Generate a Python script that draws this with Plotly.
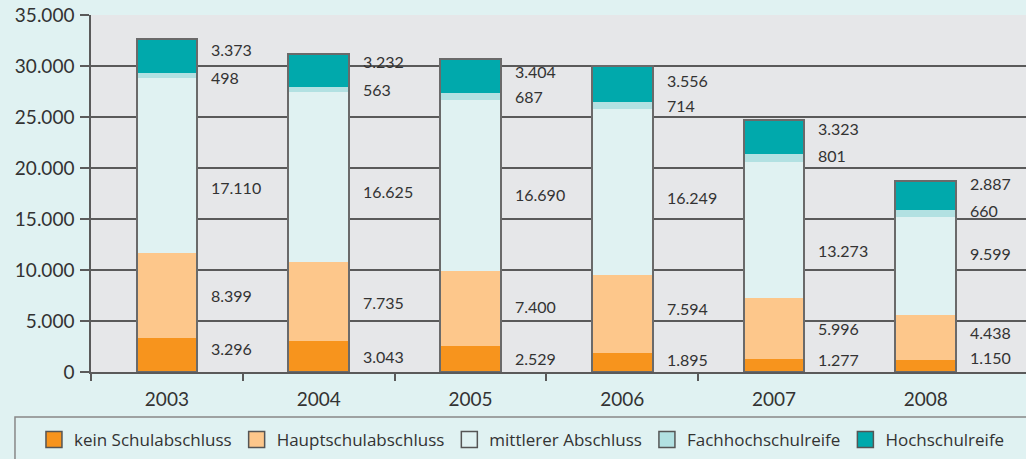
import plotly.graph_objects as go

years = ["2003", "2004", "2005", "2006", "2007", "2008"]
kein = [3296, 3043, 2529, 1895, 1277, 1150]
haupt = [8399, 7735, 7400, 7594, 5996, 4438]
mittlerer = [17110, 16625, 16690, 16249, 13273, 9599]
fach = [498, 563, 687, 714, 801, 660]
hoch = [3373, 3232, 3404, 3556, 3323, 2887]

names = ["kein Schulabschluss", "Hauptschulabschluss", "mittlerer Abschluss",
         "Fachhochschulreife", "Hochschulreife"]
values = [kein, haupt, mittlerer, fach, hoch]
colors = ["#f7941d", "#fdc78b", "#e0f2f2", "#b2e1e2", "#00a9ac"]

# pixel nudges for the value labels (positive = up), to keep them apart
label_shift = [
    [7, 0, 1, 3, 6, 9],
    [0, -1, 2, 5, 0, 5],
    [-22, -14, -9, -5, -20, 13],
    [-2, 0, 0, 0, 3, 3],
    [6, 9, 5, 4, 9, 12],
]

FONT = "Lato"
TEXT = "#333333"
LINE = "#5a5a5a"
BAR_W = 0.4
xs = list(range(len(years)))


def de(v):
    return f"{v:,}".replace(",", ".")


fig = go.Figure()
for name, vals, col in zip(names, values, colors):
    fig.add_trace(go.Bar(x=xs, y=vals, width=BAR_W, marker=dict(color=col, line=dict(width=0)),
                         showlegend=False, name=name))

# outline around each full column
totals = [sum(v) for v in zip(*values)]
fig.add_trace(go.Bar(x=xs, y=totals, width=BAR_W, xaxis="x2", showlegend=False,
                     marker=dict(color="rgba(0,0,0,0)", line=dict(color="#6a6a6a", width=2)),
                     hoverinfo="skip"))

# legend entries with larger swatches
for name, col in zip(names, colors):
    fig.add_trace(go.Scatter(x=[None], y=[None], mode="markers", name=name,
                             marker=dict(symbol="square", size=16, color=col,
                                         line=dict(color="#555555", width=1.5))))

# value labels to the right of each column
base = [0] * len(years)
for vals, shifts in zip(values, label_shift):
    for i, v in enumerate(vals):
        fig.add_annotation(x=i + BAR_W / 2, y=base[i] + v / 2, text=de(v),
                           xanchor="left", yanchor="middle", xshift=12, yshift=shifts[i],
                           showarrow=False, font=dict(family=FONT, size=16, color=TEXT))
        base[i] += v

x_range = [-0.5, 5.66]
fig.update_layout(
    barmode="stack",
    width=1026, height=459,
    margin=dict(l=91, r=0, t=15, b=87),
    paper_bgcolor="#e0f2f2",
    plot_bgcolor="#e6e7e9",
    separators=",.",
    font=dict(family=FONT, color=TEXT),
    xaxis=dict(range=x_range, tickmode="array", tickvals=xs, ticktext=years,
               ticks="", showgrid=False, zeroline=False,
               showline=True, linecolor=LINE, linewidth=1.5,
               tickfont=dict(size=19), ticklabelstandoff=9,
               minor=dict(tickmode="array", tickvals=[i - 0.5 for i in xs[:-1]],
                          ticks="outside", ticklen=7, tickcolor=LINE, tickwidth=1.5)),
    xaxis2=dict(range=x_range, overlaying="x", visible=False),
    yaxis=dict(range=[0, 35000], dtick=5000, tickformat=",d",
               showgrid=True, gridcolor=LINE, gridwidth=1.5, zeroline=False,
               showline=True, linecolor=LINE, linewidth=1.5,
               ticks="outside", ticklen=9, tickcolor=LINE, tickwidth=1.5,
               tickfont=dict(size=19), ticklabelstandoff=2),
    legend=dict(orientation="h", x=-0.061, xanchor="left", y=-0.19, yanchor="middle",
                bgcolor="rgba(0,0,0,0)", font=dict(family="Open Sans", size=17, color=TEXT),
                itemsizing="trace", traceorder="normal"),
    shapes=[dict(type="rect", xref="paper", yref="paper",
                 x0=-0.0813, x1=1.05, y0=-0.126, y1=-0.4,
                 line=dict(color="#888888", width=1.5), fillcolor="rgba(0,0,0,0)")],
    showlegend=True,
)

fig.write_html("out.html", config={"displayModeBar": False},
               post_script="document.body.style.margin='0';")
